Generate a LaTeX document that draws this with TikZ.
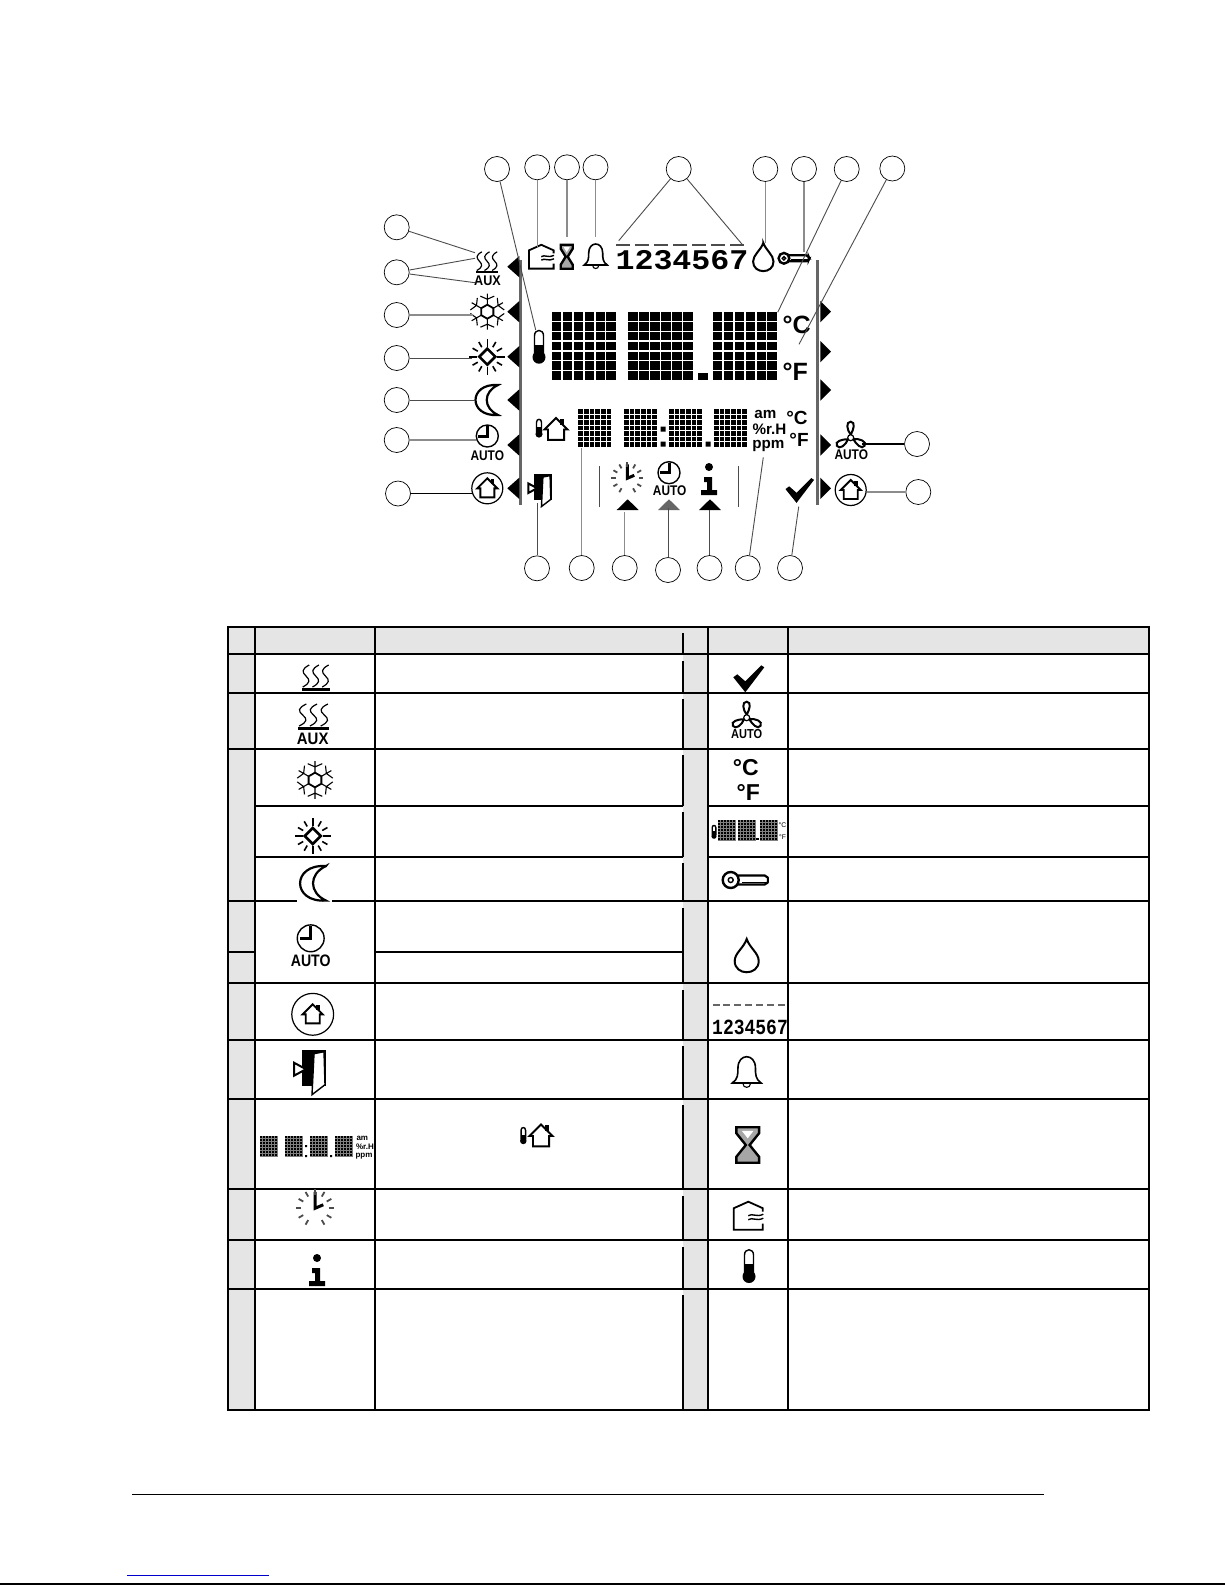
\documentclass[tikz,border=0pt]{standalone}
\usepackage{fontspec}
\setmainfont{Liberation Sans}
\newfontfamily\lmonofam{Liberation Mono}
\definecolor{cellgrey}{HTML}{E5E5E5}
\definecolor{linkblue}{HTML}{0000CC}
\newcommand\fsz[1]{\fontsize{#1}{#1}\selectfont}
\newcommand\ledmat[5]{\foreach \ci in {0,...,5}{\foreach \ri in {0,...,6}{\fill (#1+\ci*#3/6,#2+\ri*#4/7) rectangle ++(#3/6-#5,#4/7-#5);}}}
\newcommand\minimat[2]{\fill[black!50] (#1,#2) rectangle ++(17.5,#2/#2*20.5);\ledmat{#1}{#2}{18}{21}{.8}}
\tikzset{
  num/.style={circle,draw=black,line width=.35pt,minimum size=12.5pt,inner sep=0pt},
  txt/.style={inner sep=0pt,anchor=base},
  leadg/.style={draw=black!45,line width=.7pt},
  leadm/.style={draw=black!70,line width=.45pt},
  leadk/.style={draw=black,line width=.55pt},
  rule/.style={line width=.6pt},
  pics/heaticon/.style={code={
    \foreach \wx in {-9,0,9}{\draw[line width=.6pt] (\wx+3,-12) .. controls (\wx-4,-8) and (\wx-4,-5) .. (\wx,-1) .. controls (\wx+4,3) and (\wx+4,6) .. (\wx-3,10);}
    \fill (-13,11) rectangle (13,13.5);}},
  pics/snowicon/.style={code={
    \draw[line width=.9pt] (30:7)--(90:7)--(150:7)--(210:7)--(270:7)--(330:7)--cycle;
    \foreach \a in {30,90,...,330}{\draw[line width=.55pt] (\a:7)--(\a:18) (\a:12.5)--(\a+24:17) (\a:12.5)--(\a-24:17);}}},
  pics/sunicon/.style={code={
    \draw[line width=1.3pt] (0:8)--(90:8)--(180:8)--(270:8)--cycle;
    \foreach \a in {0,90,...,270}{\draw[line width=.8pt] (\a:10)--(\a:18);}
    \foreach \a in {30,60,120,150,210,240,300,330}{\draw[line width=.8pt] (\a:11)--(\a:17);}}},
  pics/moonicon/.style={code={
    \draw[line width=1.1pt,fill=white] (11,-15) .. controls (-19,-17) and (-19,17) .. (11,15) .. controls (-4,8) and (-4,-8) .. cycle;}},
  pics/clockicon/.style={code={
    \draw[line width=.7pt] (0,0) circle (11);
    \draw[line width=1.5pt] (0,-10) -- (0,0) -- (-9,0);}},
  pics/houseicon/.style={code={
    \draw[line width=.95pt,line join=miter] (-10,0)--(0,-10)--(10,0)--(7,0)--(7,9)--(-7,9)--(-7,0)--cycle;
    \fill (3.5,-9.5) rectangle (7,-4);}},
  pics/homeicon/.style={code={
    \draw[line width=.6pt] (0,0) circle (15.5);
    \pic {houseicon};}},
  pics/dooricon/.style={code={
    \fill (-8,-22) rectangle (16,14);
    \draw[line width=.7pt,fill=white] (4,-18)--(14,-20)--(15,13)--(2,23)--cycle;
    \draw[line width=1pt,fill=white] (-16,-9)--(-4,-2.5)--(-16,4)--cycle;}},
  pics/bellicon/.style={code={
    \draw[line width=.8pt,fill=white] (-11.5,9) -- (11.5,9) .. controls (7,6) and (7,2) .. (7,-3) .. controls (7,-15) and (-7,-15) .. (-7,-3) .. controls (-7,2) and (-7,6) .. (-11.5,9) -- cycle;
    \draw[line width=.55pt] (-3,9.5) .. controls (-3,13.5) and (3,13.5) .. (3,9.5);}},
  pics/hoursicon/.style={code={
    \draw[line width=1.2pt,fill=black!35] (-6,-12)--(6,-12)--(6,-8)--(1,0)--(6,8)--(6,12)--(-6,12)--(-6,8)--(-1,0)--(-6,-8)--cycle;
    \fill[white] (-3,-9.5)--(3,-9.5)--(0,-4.5)--cycle;}},
  pics/wavehouseicon/.style={code={
    \draw[line width=.9pt] (14.5,-4)--(14.5,-7.5)--(0,-14)--(-14.5,-7.5)--(-14.5,14)--(14.5,14)--(14.5,8);
    \draw[line width=.7pt] (0,0) .. controls (4,-3) and (8,2) .. (15,-1.5) (0,4) .. controls (4,1) and (8,6) .. (15,2.5);}},
  pics/dropicon/.style={code={
    \draw[line width=1pt] (0,-17) .. controls (3,-8) and (12,-3) .. (12,5) .. controls (12,20) and (-12,20) .. (-12,5) .. controls (-12,-3) and (-3,-8) .. cycle;}},
  pics/keyicon/.style={code={
    \draw[line width=1.1pt,rounded corners=1pt] (-8,-4.5) -- (21,-4.5) -- (23,0) -- (21,4.5) -- (-8,4.5);
    \draw[line width=1.2pt,fill=white] (-15,0) circle (8);
    \draw[line width=.7pt] (-15,0) circle (2.5);
    \fill (-4,1.5) rectangle (20,3);}},
  pics/thermicon/.style={code={
    \draw[line width=.7pt] (-4.5,8) -- (-4.5,-11) .. controls (-4.5,-18) and (4.5,-18) .. (4.5,-11) -- (4.5,8);
    \fill (-4.5,-2) rectangle (4.5,10);
    \fill (0,10.5) circle (6.5);}},
  pics/checkicon/.style={code={
    \fill (-15,-1)--(-11,-4)--(-3,3)--(13,-13)--(16,-11)--(-3,14)--cycle;}},
  pics/fanicon/.style={code={
    \draw[line width=.6pt] (0,1) circle (3);
    \foreach \a in {0,120,240}{\draw[line width=1pt,rotate around={\a:(0,1)}] (0,-2) .. controls (-4,-7) and (-5,-15) .. (0,-15) .. controls (5,-15) and (3,-7) .. (0,-2);}}},
  pics/clocksunicon/.style={code={
    \draw[line width=1.5pt] (0,-14)--(0,0)--(7,-3);
    \foreach \a in {0,30,60,120,150,180,210,240,270,300,330}{\draw[line width=.9pt,draw=black!70] (\a:11.5)--(\a:16);}}},
  pics/infoicon/.style={code={
    \fill (0,-20) circle (4);
    \fill (-5,-10)--(3,-10)--(3,3)--(8,3)--(8,8)--(-8,8)--(-8,3)--(-2,3)--(-2,-5)--(-5,-5)--cycle;}},
}
\begin{document}
\begin{tikzpicture}[x=.5pt,y=-.5pt]
\useasboundingbox (0,0) rectangle (1225,1585);
\fill[white] (0,0) rectangle (1225,1585);

% ---------- table
\fill[cellgrey] (228,627) rectangle (1149,654);
\fill[cellgrey] (228,654) rectangle (255,1410);
\fill[cellgrey] (683,654) rectangle (708,1410);
\draw[rule] (228,627) rectangle (1149,1410);
\foreach \ry in {654,693,749,983,1040,1099,1189,1240,1289}{\draw[rule] (228,\ry) -- (1149,\ry);}
\foreach \ry in {806,857}{\draw[rule] (255,\ry) -- (683,\ry) (708,\ry) -- (1149,\ry);}
\draw[rule] (228,901) -- (297,901) (332,901) -- (1149,901);
\draw[rule] (228,952) -- (255,952) (375,952) -- (683,952);
\foreach \cx in {255,375,708,788}{\draw[rule] (\cx,627) -- (\cx,1410);}
\foreach \sa/\sb in {633/654,661/693,699/749,755/806,812/857,863/901,908/983,990/1040,1046/1099,1105/1189,1196/1240,1247/1289,1295/1410}{\draw[rule] (683,\sa) -- (683,\sb);}

% table icons, left
\pic[xscale=1.08] at (315.7,677) {heaticon};
\pic[xscale=1.2] at (313.5,716) {heaticon};
\node[txt] (tAux) at (312.7,744.3) {\fsz{8.3}\bfseries\scalebox{.9}[1]{AUX}};
\pic[scale=1.05] at (315,780) {snowicon};
\pic[scale=1] at (312.7,836) {sunicon};
\pic[scale=1.15] at (313.3,883.3) {moonicon};
\pic[scale=1.22] at (310.7,938.3) {clockicon};
\node[txt] (tAutoA) at (310.7,966) {\fsz{8.3}\bfseries\scalebox{.85}[1]{AUTO}};
\pic[scale=1.35] at (312.7,1014.3) {homeicon};
\pic at (310,1071.7) {dooricon};
\minimat{260}{1136}
\minimat{285}{1136}
\minimat{310}{1136}
\minimat{335}{1136}
\fill (305,1145) rectangle (307,1147) (305,1155) rectangle (307,1157) (330,1155) rectangle (332,1157);
\node[txt] (tAm) at (362.3,1140.7) {\fsz{4}\bfseries am};
\node[txt] (tRh) at (365,1149.3) {\fsz{4}\bfseries \%r.H};
\node[txt] (tPpm) at (364,1157.3) {\fsz{4}\bfseries ppm};
\pic[scale=.5] at (523.3,1135.7) {thermicon};
\pic[scale=1.15] at (541,1136) {houseicon};
\pic[scale=1.18] at (315,1208.3) {clocksunicon};
\pic at (317,1278) {infoicon};

% table icons, right
\pic at (748.3,678.3) {checkicon};
\pic at (746.7,716.7) {fanicon};
\node[txt] (tAutoB) at (746.7,738.7) {\fsz{6.5}\bfseries\scalebox{.85}[1]{AUTO}};
\node[txt] (tC) at (745.7,775.5) {\fsz{11.5}\bfseries °C};
\node[txt] (tF) at (748.3,800) {\fsz{11.5}\bfseries °F};
\pic[scale=.4] at (714,832) {thermicon};
\minimat{718}{820}
\minimat{738}{820}
\minimat{760}{820}
\fill (756,838) rectangle (758.5,840);
\node[txt] (tmC) at (782.5,827.5) {\fsz{3.4}°C};
\node[txt] (tmF) at (782.5,839.5) {\fsz{3.4}°F};
\pic at (745.7,880) {keyicon};
\pic at (746.7,956) {dropicon};
\foreach \i in {0,...,6}{\fill[black!60] (712.5+\i*10.9,1004) rectangle ++(7,2);}
\node[txt] (tDays) at (750,1034.3) {\lmonofam\bfseries\fsz{9}\scalebox{1}[1.2]{1234567}};
\pic[scale=1.25] at (746.7,1071.7) {bellicon};
\pic[xscale=1.9,yscale=1.48] at (747.7,1145) {hoursicon};
\pic at (748.3,1215.7) {wavehouseicon};
\pic at (749,1266) {thermicon};

% ---------- display panel
\draw[line width=1.5pt,draw=black!60] (520.7,260) -- (520.7,505) (817.3,260) -- (817.3,505);
\foreach \ty in {266.7,311.7,356.7,400,445,488.3}{\fill (507.3,\ty) -- (519.3,\ty-10.7) -- (519.3,\ty+10.7) -- cycle;}
\foreach \ty in {311.7,351.7,390,445,488.3}{\fill (831,\ty) -- (820.3,\ty-10.7) -- (820.3,\ty+10.7) -- cycle;}
\fill (627.7,499.3) -- (638.7,510) -- (616.7,510) -- cycle;
\fill[black!60] (669,499.3) -- (680,510) -- (658,510) -- cycle;
\fill (710,499.3) -- (721,510) -- (699,510) -- cycle;
\draw[line width=.6pt,draw=black!70] (599.3,466) -- (599.3,507.3) (738.3,466) -- (738.3,507.3);

\ledmat{551.7}{312.3}{65.7}{68.7}{1.4}
\ledmat{628.3}{312.3}{65.7}{68.7}{1.4}
\ledmat{712.7}{312.3}{65.7}{68.7}{1.4}
\fill (698.3,372.7) rectangle (708.3,380);
\ledmat{578.3}{409.3}{34}{38.6}{1}
\ledmat{624}{409.3}{34}{38.6}{1}
\ledmat{669}{409.3}{34}{38.6}{1}
\ledmat{714}{409.3}{34}{38.6}{1}
\fill (660.5,426.5) rectangle (665.5,431.5) (660.5,441.7) rectangle (665.5,446.7) (705.7,441.7) rectangle (710.7,446.7);

\pic[scale=.85] at (487,262) {heaticon};
\node[txt] (dAux) at (487.5,285) {\fsz{7}\bfseries\scalebox{.9}[1]{AUX}};
\pic at (487.3,311.7) {snowicon};
\pic at (487.3,356.7) {sunicon};
\pic at (487,400) {moonicon};
\pic at (487.3,436) {clockicon};
\node[txt] (dAutoA) at (487.3,460) {\fsz{7}\bfseries\scalebox{.85}[1]{AUTO}};
\pic at (487.3,488.3) {homeicon};
\pic[scale=.72] at (540,490) {dooricon};
\pic[scale=.85] at (541.3,256.7) {wavehouseicon};
\pic at (566.7,256.7) {hoursicon};
\pic at (595.7,256) {bellicon};
\foreach \i in {0,...,6}{\fill[black!70] (616+\i*19,244) rectangle ++(14,2);}
\node[txt] (dDays) at (682,269.3) {\lmonofam\bfseries\fsz{15.83}\scalebox{1}[.9]{1234567}};
\pic[scale=.85] at (763.3,257.3) {dropicon};
\pic[scale=.67] at (794,258.3) {keyicon};
\pic at (539,346.7) {thermicon};
\pic[scale=.55] at (539,428.3) {thermicon};
\pic[scale=1.15] at (556,429.5) {houseicon};
\node[txt] (dC) at (796.7,333.3) {\fsz{12.5}\bfseries °C};
\node[txt] (dF) at (795.3,380) {\fsz{12.5}\bfseries °F};
\node[txt] (dsC) at (797,424) {\fsz{9.5}\bfseries °C};
\node[txt] (dsF) at (799,446.7) {\fsz{9.5}\bfseries °F};
\node[txt] (dAm) at (765.3,418) {\fsz{7.6}\bfseries am};
\node[txt] (dRh) at (769.5,434.5) {\fsz{7.6}\bfseries \%r.H};
\node[txt] (dPpm) at (768.3,448) {\fsz{7.6}\bfseries ppm};
\pic at (627.3,478.3) {clocksunicon};
\pic at (669,472.7) {clockicon};
\node[txt] (dAutoB) at (669.7,495) {\fsz{7}\bfseries\scalebox{.85}[1]{AUTO}};
\pic at (709,487) {infoicon};
\pic[scale=.92] at (799.3,490) {checkicon};
\pic at (850.7,436.7) {fanicon};
\node[txt] (dAutoC) at (851.3,459.3) {\fsz{7}\bfseries\scalebox{.85}[1]{AUTO}};
\pic at (850.7,490) {homeicon};

% ---------- callout circles
\node[num] (t1) at (497,169) {};
\node[num] (t2) at (537.2,167.3) {};
\node[num] (t3) at (567,167.3) {};
\node[num] (t4) at (595.5,167.3) {};
\node[num] (t5) at (678.7,169) {};
\node[num] (t6) at (765.3,169) {};
\node[num] (t7) at (804,169) {};
\node[num] (t8) at (846.7,169) {};
\node[num] (t9) at (892.3,168.5) {};
\node[num] (l1) at (396.7,227.3) {};
\node[num] (l2) at (396.7,272.3) {};
\node[num] (l3) at (396.7,315) {};
\node[num] (l4) at (396.7,358) {};
\node[num] (l5) at (396.7,400) {};
\node[num] (l6) at (396.7,440) {};
\node[num] (l7) at (398,493.5) {};
\node[num] (b1) at (537,568.3) {};
\node[num] (b2) at (581.7,568) {};
\node[num] (b3) at (624.7,568) {};
\node[num] (b4) at (668,570) {};
\node[num] (b5) at (709.5,568) {};
\node[num] (b6) at (747.7,568) {};
\node[num] (b7) at (790,568) {};
\node[num] (r1) at (917,444) {};
\node[num] (r2) at (918.3,492) {};

% ---------- connector ends
\coordinate (et1) at (535.7,330);
\coordinate (et2) at (537.2,246.7);
\coordinate (et3) at (567,236.7);
\coordinate (et4) at (595.5,236.7);
\coordinate (et5a) at (618.7,240.7);
\coordinate (et5b) at (742.7,245);
\coordinate (et6) at (765.3,243.3);
\coordinate (et7) at (804,251.7);
\coordinate (et8) at (777.7,312.3);
\coordinate (et9) at (799,344.3);
\coordinate (el1) at (475,252.7);
\coordinate (el2a) at (475,258.3);
\coordinate (el2b) at (475,282.7);
\coordinate (el3) at (473.3,315);
\coordinate (el4) at (471.7,358);
\coordinate (el5) at (475,400);
\coordinate (el6) at (476,440);
\coordinate (el7) at (471.7,493.5);
\coordinate (eb1) at (537,503.3);
\coordinate (eb2) at (581.7,448.3);
\coordinate (eb3) at (624.7,511.7);
\coordinate (eb4) at (668,508);
\coordinate (eb5) at (709.5,510);
\coordinate (eb6) at (763.3,457.3);
\coordinate (eb7) at (798.7,506.7);
\coordinate (er1) at (861.7,444);
\coordinate (er2) at (866.7,492);

% ---------- connectors
\draw[leadm] (t1) -- (et1);
\draw[leadg] (t2) -- (et2);
\draw[leadg] (t3) -- (et3);
\draw[leadg] (t4) -- (et4);
\draw[leadm] (t5) -- (et5a);
\draw[leadm] (t5) -- (et5b);
\draw[leadg] (t6) -- (et6);
\draw[leadg] (t7) -- (et7);
\draw[leadm] (t8) -- (et8);
\draw[leadm] (t9) -- (et9);
\draw[leadm] (l1) -- (el1);
\draw[leadm] (l2) -- (el2a);
\draw[leadm] (l2) -- (el2b);
\draw[leadg] (l3) -- (el3);
\draw[leadm] (l4) -- (el4);
\draw[leadm] (l5) -- (el5);
\draw[leadg] (l6) -- (el6);
\draw[leadk] (l7) -- (el7);
\draw[leadm] (b1) -- (eb1);
\draw[leadg] (b2) -- (eb2);
\draw[leadg] (b3) -- (eb3);
\draw[leadm] (b4) -- (eb4);
\draw[leadm] (b5) -- (eb5);
\draw[leadm] (b6) -- (eb6);
\draw[leadm] (b7) -- (eb7);
\draw[leadk] (r1) -- (er1);
\draw[leadg] (r2) -- (er2);

% ---------- footer
\draw[line width=.7pt] (132,1494.5) -- (1044,1494.5);
\draw[line width=.6pt,draw=linkblue] (127,1575.5) -- (269,1575.5);
\draw[line width=.8pt] (0,1584) -- (1225,1584);
\end{tikzpicture}
\end{document}
